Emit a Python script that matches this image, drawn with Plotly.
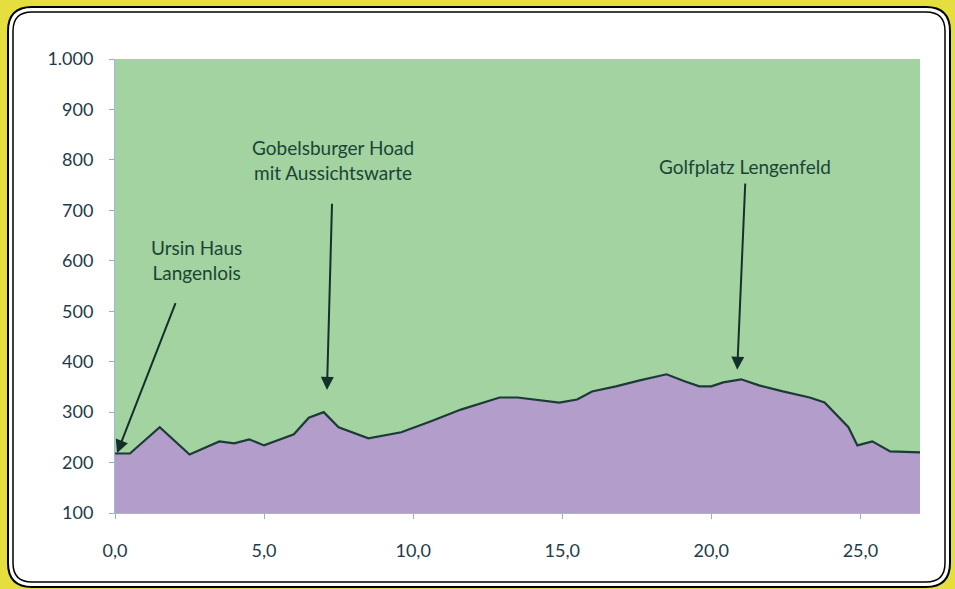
import plotly.graph_objects as go

# Elevation profile (km, m)
km = [0.0, 0.5, 1.5, 2.5, 3.5, 4.0, 4.5, 5.0, 6.0, 6.5, 7.0, 7.5, 8.5, 9.6,
      10.6, 11.6, 12.9, 13.5, 14.9, 15.5, 16.0, 16.8, 17.6, 18.5, 19.1, 19.6,
      20.0, 20.4, 21.0, 21.6, 22.4, 23.3, 23.8, 24.2, 24.6, 24.9, 25.4, 26.0, 27.0]
elev = [218, 218, 270, 216, 242, 238, 246, 234, 256, 289, 300, 270, 248, 260,
        282, 305, 329, 329, 319, 325, 341, 351, 363, 375, 361, 351,
        351, 359, 365, 353, 341, 329, 319, 295, 270, 234, 242, 222, 220]

y_tickvals = [100, 200, 300, 400, 500, 600, 700, 800, 900, 1000]
y_ticktext = ["100", "200", "300", "400", "500", "600", "700", "800", "900", "1.000"]
x_tickvals = [0, 5, 10, 15, 20, 25]
x_ticktext = ["0,0", "5,0", "10,0", "15,0", "20,0", "25,0"]

labels = ["Ursin Haus<br>Langenlois", "Gobelsburger Hoad<br>mit Aussichtswarte", "Golfplatz Lengenfeld"]
label_x = [2.72, 7.32, 21.14]
label_y = [601, 799, 787]
arrow_head_x = [0.07, 7.11, 20.87]
arrow_head_y = [219, 344, 384]
arrow_tail_x = [2.05, 7.28, 21.14]
arrow_tail_y = [519, 716, 756]

W, H = 955, 589
PL, PR, PT, PB = 115, 920, 59, 513

def px2paper(px, py):
    return (px - PL) / (PR - PL), (PB - py) / (PB - PT)

def rr_path(x0, y0, x1, y1, r):
    pts = [("M", [(x0 + r, y0)]), ("L", [(x1 - r, y0)]), ("Q", [(x1, y0), (x1, y0 + r)]),
           ("L", [(x1, y1 - r)]), ("Q", [(x1, y1), (x1 - r, y1)]), ("L", [(x0 + r, y1)]),
           ("Q", [(x0, y1), (x0, y1 - r)]), ("L", [(x0, y0 + r)]), ("Q", [(x0, y0), (x0 + r, y0)])]
    s = ""
    for cmd, ps in pts:
        s += cmd + " " + " ".join("%.5f,%.5f" % px2paper(a, b) for a, b in ps) + " "
    return s + "Z"

fig = go.Figure()
fig.add_trace(go.Scatter(x=km, y=elev, mode="lines", fill="tozeroy",
                         fillcolor="#b39dca", line=dict(color="#1c3a36", width=2.2),
                         hoverinfo="skip", showlegend=False))

text_color = "#1a4536"
annotations = []
for t, lx, ly in zip(labels, label_x, label_y):
    annotations.append(dict(x=lx, y=ly, xref="x", yref="y", text=t, showarrow=False,
                            font=dict(family="Lato", size=19, color=text_color),
                            align="center"))
for hx, hy, tx, ty in zip(arrow_head_x, arrow_head_y, arrow_tail_x, arrow_tail_y):
    annotations.append(dict(x=hx, y=hy, xref="x", yref="y", ax=tx, ay=ty, axref="x", ayref="y",
                            text="", showarrow=True, arrowhead=2, arrowsize=1.3,
                            arrowwidth=2, arrowcolor="#14302a"))

shapes = [
    dict(type="path", xref="paper", yref="paper", path=rr_path(8, 7, 950, 587, 24),
         fillcolor="white", line=dict(color="black", width=2), layer="below"),
    dict(type="path", xref="paper", yref="paper", path=rr_path(13, 12, 945, 582, 19),
         fillcolor="rgba(0,0,0,0)", line=dict(color="black", width=1.5), layer="below"),
    dict(type="rect", xref="paper", yref="paper", x0=0, x1=1, y0=0, y1=1,
         fillcolor="#a3d3a0", line=dict(width=0), layer="below"),
]

tick_font = dict(family="Lato", size=18, color="#1d3b4a")
fig.update_layout(
    width=W, height=H,
    margin=dict(l=PL, r=W - PR, t=PT, b=H - PB),
    paper_bgcolor="#e4df3e", plot_bgcolor="#a3d3a0",
    shapes=shapes, annotations=annotations,
    xaxis=dict(range=[0, 27], tickvals=x_tickvals, ticktext=x_ticktext,
               showgrid=False, zeroline=False, ticks="outside", ticklen=5,
               tickcolor="#8ab4d0", showline=True, linecolor="#9dbbd0", linewidth=1,
               tickfont=tick_font, ticklabelstandoff=16),
    yaxis=dict(range=[100, 1000], tickvals=y_tickvals, ticktext=y_ticktext,
               showgrid=False, zeroline=False, ticks="outside", ticklen=5,
               tickcolor="#8ab4d0", showline=True, linecolor="#9dbbd0", linewidth=1,
               tickfont=tick_font, ticklabelstandoff=12),
)

fig.write_html("out.html", config={"displayModeBar": False},
               post_script="document.body.style.margin='0px';document.body.style.overflow='hidden';")
